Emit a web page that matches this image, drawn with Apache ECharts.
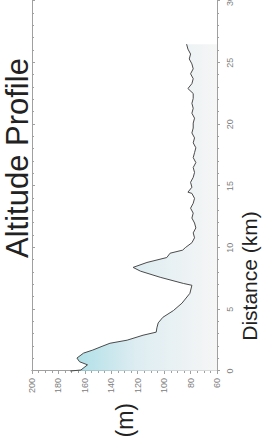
<!DOCTYPE html>
<html>
  <head>
    <meta charset="utf-8" />
    <title>Altitude Profile</title>
    <script src="https://cdn.jsdelivr.net/npm/echarts@6.0.0/dist/echarts.min.js"></script>
    <style>
      * {
        margin: 0;
        padding: 0;
      }
      html,
      body {
        width: 266px;
        height: 446px;
        overflow: hidden;
        background: #fff;
      }
      /* chart is drawn landscape, then turned a quarter turn to the left */
      #container {
        position: absolute;
        left: 0;
        top: 0;
        width: 446px;
        height: 266px;
        transform-origin: 0 0;
        transform: translate(0, 446px) rotate(-90deg);
      }
    </style>
  </head>
  <body>
    <div id="container"></div>
    <script>
      // distance along the route (km)
      const distance = [
        0, 0.08, 0.5, 0.75, 1.05, 1.45, 1.7, 2.0, 2.25, 2.5, 2.75, 2.9, 3.15,
        3.5, 3.9, 4.35, 4.9, 5.5, 6.3, 6.95, 7.1, 7.6, 8.1, 8.4, 8.8, 9.2,
        9.55, 9.8, 10.0, 10.4, 10.8, 11.2, 11.6, 12.0, 12.4, 12.8, 13.2, 13.6,
        14.0, 14.4, 14.5, 14.9, 15.3, 15.7, 16.1, 16.5, 16.9, 17.3, 17.7, 18.1,
        18.5, 18.9, 19.3, 19.7, 20.1, 20.5, 20.9, 21.3, 21.7, 22.1, 22.5, 22.9,
        23.3, 23.7, 24.1, 24.5, 24.9, 25.3, 25.7, 26.1, 26.5
      ];
      // altitude (m)
      const altitude = [
        171, 163, 158, 164, 166, 161, 154, 147, 141, 128, 120.5, 116, 106,
        105.5, 104.5, 101, 93, 86.5, 80.5, 79, 85.5, 103, 118, 123.5, 113, 98,
        95.5, 86, 84, 79, 77, 78, 76, 77, 79, 78, 80, 78,
        77, 79, 82, 79, 80, 78, 77, 78, 76, 78, 77, 76,
        78, 77, 79, 78, 78, 77, 79, 78, 79, 78, 78, 82,
        79, 78, 80, 78, 79, 81, 80, 82, 83
      ];
      const distTicks = [0, 30, 5];
      const altTicks = [60, 200, 20];

      const myChart = echarts.init(document.getElementById("container"), null, {
        renderer: "svg"
      });

      const fontFamily = "Liberation Sans, Arial, sans-serif";
      const axisGray = "#a0a0a0";

      myChart.setOption({
        animation: false,
        textStyle: { fontFamily: fontFamily },
        title: {
          text: "Altitude Profile",
          left: 183,
          top: -3,
          textStyle: { fontSize: 31, fontWeight: "normal", color: "#222", fontFamily: fontFamily }
        },
        grid: {
          left: 75,
          right: 1,
          top: 32,
          bottom: 49,
          outerBoundsMode: "none"
        },
        xAxis: [
          {
            type: "value",
            position: "bottom",
            min: distTicks[0],
            max: distTicks[1],
            interval: distTicks[2],
            axisLine: { show: true, lineStyle: { color: axisGray } },
            axisTick: { show: true, length: 3, lineStyle: { color: axisGray } },
            minorTick: { show: true, splitNumber: 5, length: 2, lineStyle: { color: axisGray } },
            splitLine: { show: false },
            axisLabel: { fontSize: 9, color: "#808080", margin: 8 },
            name: "Distance (km)",
            nameLocation: "middle",
            nameGap: 19,
            nameTextStyle: { fontSize: 21, color: "#222", padding: [0, 180, 0, 0] }
          },
          {
            type: "value",
            position: "top",
            min: distTicks[0],
            max: distTicks[1],
            interval: distTicks[2],
            axisLine: { show: true, lineStyle: { color: axisGray } },
            axisTick: { show: true, inside: true, length: 3, lineStyle: { color: axisGray } },
            minorTick: { show: true, splitNumber: 5, length: 2, lineStyle: { color: axisGray } },
            splitLine: { show: false },
            axisLabel: { show: false }
          }
        ],
        yAxis: [
          {
            type: "value",
            position: "left",
            min: altTicks[0],
            max: altTicks[1],
            interval: altTicks[2],
            axisLine: { show: true, lineStyle: { color: axisGray } },
            axisTick: { show: true, length: 3, lineStyle: { color: axisGray } },
            minorTick: { show: true, splitNumber: 4, length: 2, lineStyle: { color: axisGray } },
            splitLine: { show: false },
            axisLabel: { fontSize: 9, color: "#808080", margin: 7 },
            name: "(m)",
            nameLocation: "middle",
            nameRotate: 0,
            nameGap: 32,
            nameTextStyle: { fontSize: 23, color: "#222" }
          },
          {
            type: "value",
            position: "right",
            min: altTicks[0],
            max: altTicks[1],
            interval: altTicks[2],
            axisLine: { show: true, lineStyle: { color: axisGray } },
            axisTick: { show: true, inside: true, length: 3, lineStyle: { color: axisGray } },
            minorTick: { show: true, splitNumber: 4, length: 2, lineStyle: { color: axisGray } },
            splitLine: { show: false },
            axisLabel: { show: false }
          }
        ],
        series: [
          {
            name: "altitude",
            type: "line",
            xAxisIndex: 0,
            yAxisIndex: 0,
            data: distance.map((d, i) => [d, altitude[i]]),
            showSymbol: false,
            lineStyle: { color: "#4a4a4a", width: 1 },
            itemStyle: { color: "#4a4a4a" },
            areaStyle: {
              color: new echarts.graphic.LinearGradient(0, 0, 0, 1, [
                { offset: 0, color: "#88d0db" },
                { offset: 0.45, color: "#cfe5ec" },
                { offset: 1, color: "#f2f2f2" }
              ])
            }
          }
        ]
      });
    </script>
  </body>
</html>
